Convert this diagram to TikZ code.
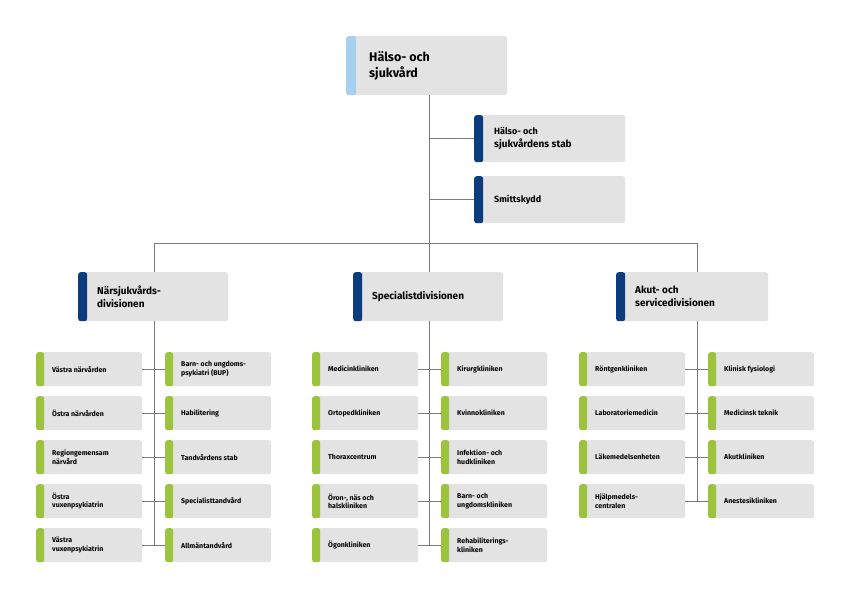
\documentclass[tikz,border=0pt]{standalone}
\usepackage{fontspec}
\setmainfont{Fira Sans}
\definecolor{boxg}{HTML}{E3E3E3}
\definecolor{dblue}{HTML}{0B3C7D}
\definecolor{lblue}{HTML}{A6D0EE}
\definecolor{lgreen}{HTML}{9BC33C}
\definecolor{lineg}{HTML}{7A7A7A}
\begin{document}
\begin{tikzpicture}[x=1pt,y=-1pt,
  line/.style={draw=lineg,line width=0.8pt},
  txt/.style={anchor=west,align=left,inner sep=0pt,font=\fontsize{7}{8.5}\selectfont\bfseries},
  txtm/.style={anchor=west,align=left,inner sep=0pt,font=\fontsize{10}{13}\selectfont\bfseries},
  txtl/.style={anchor=west,align=left,inner sep=0pt,font=\fontsize{12.5}{16}\selectfont\bfseries}]
\useasboundingbox (0,0) rectangle (842,595);
\newcommand\bx[8]{% name x y w h barcol bar textstyle text
  \node[anchor=north west,fill=boxg,rounded corners=2.5pt,minimum width=#4pt,minimum height=#5pt,inner sep=0pt,
    path picture={\fill[#6] (path picture bounding box.south west) rectangle ([xshift=#7pt]path picture bounding box.north west);}] (#1) at (#2,#3) {};
}
\newcommand\bt[4]{\node[#2] (#1t) at ([xshift=#3pt]#1.west) {#4};}
% top
\bx{top}{346}{36}{161}{59}{lblue}{10}{}
\bt{top}{txtl}{23}{Hälso- och\\sjukvård}
\bx{stab}{474}{115}{151}{47}{dblue}{9}{}
\bt{stab}{txtm}{20}{\fontsize{9}{13}\selectfont Hälso- och\\sjukvårdens stab}
\bx{smit}{474}{176}{151}{47}{dblue}{9}{}
\bt{smit}{txtm}{20}{\fontsize{9}{13}\selectfont Smittskydd}
% divisions
\bx{d1}{78}{272}{150}{49}{dblue}{9}{}
\bt{d1}{txtm}{19}{Närsjukvårds-\\divisionen}
\bx{d2}{353}{272}{150}{49}{dblue}{9}{}
\bt{d2}{txtm}{19}{Specialistdivisionen}
\bx{d3}{616}{272}{152}{49}{dblue}{9}{}
\bt{d3}{txtm}{19}{Akut- och\\servicedivisionen}
% small boxes
\newcommand\smbox[4]{\bx{#1}{#2}{#3}{106}{34}{lgreen}{8}{}\bt{#1}{txt}{16}{#4}}
\smbox{a1}{36}{352}{Västra närvården}
\smbox{a2}{36}{396}{Östra närvården}
\smbox{a3}{36}{440}{Regiongemensam\\närvård}
\smbox{a4}{36}{484}{Östra\\vuxenpsykiatrin}
\smbox{a5}{36}{528}{Västra\\vuxenpsykiatrin}
\smbox{b1}{165}{352}{Barn- och ungdoms-\\psykiatri (BUP)}
\smbox{b2}{165}{396}{Habilitering}
\smbox{b3}{165}{440}{Tandvårdens stab}
\smbox{b4}{165}{484}{Specialisttandvård}
\smbox{b5}{165}{528}{Allmäntandvård}
\smbox{c1}{312}{352}{Medicinkliniken}
\smbox{c2}{312}{396}{Ortopedkliniken}
\smbox{c3}{312}{440}{Thoraxcentrum}
\smbox{c4}{312}{484}{Öron-, näs och\\halskliniken}
\smbox{c5}{312}{528}{Ögonkliniken}
\smbox{e1}{441}{352}{Kirurgkliniken}
\smbox{e2}{441}{396}{Kvinnokliniken}
\smbox{e3}{441}{440}{Infektion- och\\hudkliniken}
\smbox{e4}{441}{484}{Barn- och\\ungdomskliniken}
\smbox{e5}{441}{528}{Rehabiliterings-\\kliniken}
\smbox{f1}{579}{352}{Röntgenkliniken}
\smbox{f2}{579}{396}{Laboratoriemedicin}
\smbox{f3}{579}{440}{Läkemedelsenheten}
\smbox{f4}{579}{484}{Hjälpmedels-\\centralen}
\smbox{g1}{708}{352}{Klinisk fysiologi}
\smbox{g2}{708}{396}{Medicinsk teknik}
\smbox{g3}{708}{440}{Akutkliniken}
\smbox{g4}{708}{484}{Anestesikliniken}
% connectors
\coordinate (t0) at (429,95);
\coordinate (t1) at (429,243);
\coordinate (h1) at (154,243);
\coordinate (h3) at (697,243);
\draw[line] (t0) -- (t1);
\draw[line] (stab.west -| t0) -- (stab.west);
\draw[line] (smit.west -| t0) -- (smit.west);
\draw[line] (h1) -- (h3);
\draw[line] (h1) -- (h1 |- d1.north);
\draw[line] (t1) -- (t1 |- d2.north);
\draw[line] (h3) -- (h3 |- d3.north);
\draw[line] (h1 |- d1.south) -- (h1 |- a5.east);
\draw[line] (t1 |- d2.south) -- (t1 |- c5.east);
\draw[line] (h3 |- d3.south) -- (h3 |- f4.east);
\foreach \i in {1,...,5}{
  \draw[line] (a\i.east) -- (b\i.west);
  \draw[line] (c\i.east) -- (e\i.west);}
\foreach \i in {1,...,4}{
  \draw[line] (f\i.east) -- (g\i.west);}
\end{tikzpicture}
\end{document}
